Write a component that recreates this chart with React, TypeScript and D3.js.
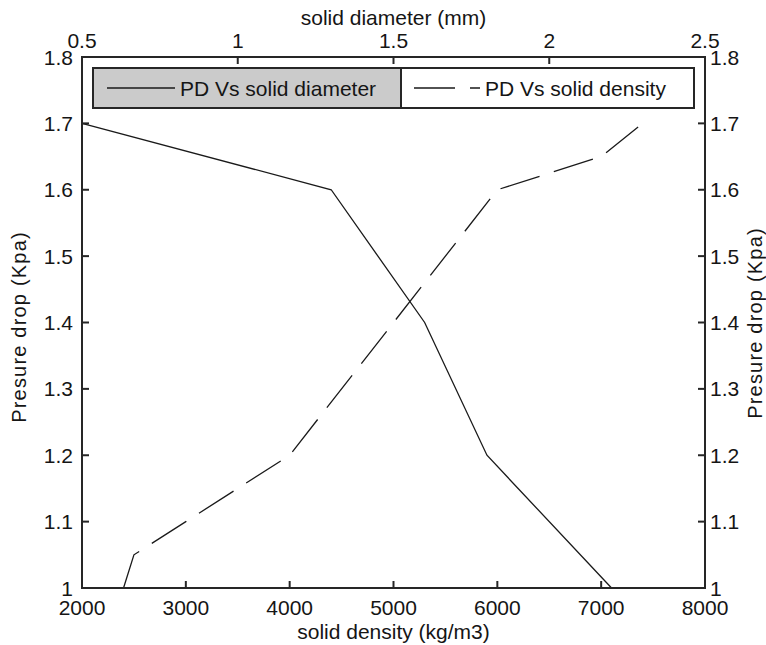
import React from "react";
import * as d3 from "d3";

// Series 1: PD vs solid diameter (top axis, mm)
const diameterMm = [0.5, 1.3, 1.6, 1.8, 2.2];
const pdDiameter = [1.7, 1.6, 1.4, 1.2, 1.0];

// Series 2: PD vs solid density (bottom axis, kg/m3)
const densityKg = [2400, 2500, 3000, 4000, 6000, 7000, 7400];
const pdDensity = [1.0, 1.05, 1.1, 1.2, 1.6, 1.65, 1.7];

const yTicks = [1, 1.1, 1.2, 1.3, 1.4, 1.5, 1.6, 1.7, 1.8];
const yTickLabels = ["1", "1.1", "1.2", "1.3", "1.4", "1.5", "1.6", "1.7", "1.8"];
const bottomTicks = [2000, 3000, 4000, 5000, 6000, 7000, 8000];
const bottomTickLabels = ["2000", "3000", "4000", "5000", "6000", "7000", "8000"];
const topTicks = [0.5, 1, 1.5, 2, 2.5];
const topTickLabels = ["0.5", "1", "1.5", "2", "2.5"];

const legendLabels = ["PD Vs solid diameter", "PD Vs solid density"];
const topTitle = "solid diameter (mm)";
const bottomTitle = "solid density (kg/m3)";
const yTitle = "Presure drop (Kpa)";

const W = 766;
const H = 645;
const L = 82;
const R = 705;
const T = 57;
const B = 588;

const FONT = "'Liberation Sans', Arial, sans-serif";
const FS = 21;
const TXT = "#151515";
const LINE = "#1a1a1a";
const DASH = "41,15";
const TICK = 7;

export default function App() {
  const xDen = d3.scaleLinear().domain([2000, 8000]).range([L, R]);
  const xDia = d3.scaleLinear().domain([0.5, 2.5]).range([L, R]);
  const y = d3.scaleLinear().domain([1, 1.8]).range([B, T]);

  const diaLine = d3
    .line<number>()
    .x((d) => xDia(d))
    .y((_, i) => y(pdDiameter[i]));
  const denLine = d3
    .line<number>()
    .x((d) => xDen(d))
    .y((_, i) => y(pdDensity[i]));

  const legTop = 68;
  const legBot = 108;
  const legMid = (legTop + legBot) / 2;
  const legL = 93;
  const legDiv = 401;
  const legR = 694;

  return (
    <svg
      width={W}
      height={H}
      style={{ position: "absolute", left: 0, top: 0, background: "#fff" }}
      fontFamily={FONT}
      fontSize={FS}
    >
      <rect x={0} y={0} width={W} height={H} fill="#fff" />

      {/* data lines */}
      <path d={diaLine(diameterMm) || ""} fill="none" stroke={LINE} strokeWidth={1.3} />
      <path
        d={denLine(densityKg) || ""}
        fill="none"
        stroke={LINE}
        strokeWidth={1.3}
        strokeDasharray={DASH}
      />

      {/* axes box */}
      <rect x={L} y={T} width={R - L} height={B - T} fill="none" stroke="#262626" strokeWidth={2} />

      {/* y ticks left & right */}
      {yTicks.map((v, i) => (
        <g key={"y" + i}>
          <line x1={L} x2={L + TICK} y1={y(v)} y2={y(v)} stroke="#262626" strokeWidth={2} />
          <line x1={R} x2={R - TICK} y1={y(v)} y2={y(v)} stroke="#262626" strokeWidth={2} />
          <text x={L - 9} y={y(v)} dy="0.36em" textAnchor="end" fill={TXT}>
            {yTickLabels[i]}
          </text>
          <text x={R + 5} y={y(v)} dy="0.36em" textAnchor="start" fill={TXT}>
            {yTickLabels[i]}
          </text>
        </g>
      ))}

      {/* bottom ticks */}
      {bottomTicks.map((v, i) => (
        <g key={"b" + i}>
          <line x1={xDen(v)} x2={xDen(v)} y1={B} y2={B - TICK} stroke="#262626" strokeWidth={2} />
          <text x={xDen(v)} y={615} textAnchor="middle" fill={TXT}>
            {bottomTickLabels[i]}
          </text>
        </g>
      ))}

      {/* top ticks */}
      {topTicks.map((v, i) => (
        <g key={"t" + i}>
          <line x1={xDia(v)} x2={xDia(v)} y1={T} y2={T + TICK} stroke="#262626" strokeWidth={2} />
          <text x={xDia(v)} y={48} textAnchor="middle" fill={TXT}>
            {topTickLabels[i]}
          </text>
        </g>
      ))}

      {/* axis titles */}
      <text x={(L + R) / 2} y={25} textAnchor="middle" fill={TXT}>
        {topTitle}
      </text>
      <text x={(L + R) / 2} y={639} textAnchor="middle" fill={TXT}>
        {bottomTitle}
      </text>
      <text
        transform="translate(26,327) rotate(-90)"
        textAnchor="middle"
        fontSize={20}
        letterSpacing={1.2}
        fill={TXT}
      >
        {yTitle}
      </text>
      <text
        transform="translate(762,323) rotate(-90)"
        textAnchor="middle"
        fontSize={20}
        letterSpacing={1.2}
        fill={TXT}
      >
        {yTitle}
      </text>

      {/* legend */}
      <rect x={legL} y={legTop} width={legDiv - legL} height={legBot - legTop} fill="#cbcbcb" stroke="#262626" strokeWidth={2} />
      <rect x={legDiv} y={legTop} width={legR - legDiv} height={legBot - legTop} fill="#fff" stroke="#262626" strokeWidth={2} />
      <line x1={107} x2={175} y1={legMid} y2={legMid} stroke={LINE} strokeWidth={1.3} />
      <text x={180} y={legMid} dy="0.36em" fill={TXT}>
        {legendLabels[0]}
      </text>
      <line
        x1={414}
        x2={480}
        y1={legMid}
        y2={legMid}
        stroke={LINE}
        strokeWidth={1.3}
        strokeDasharray={DASH}
      />
      <text x={485} y={legMid} dy="0.36em" fill={TXT}>
        {legendLabels[1]}
      </text>
    </svg>
  );
}
